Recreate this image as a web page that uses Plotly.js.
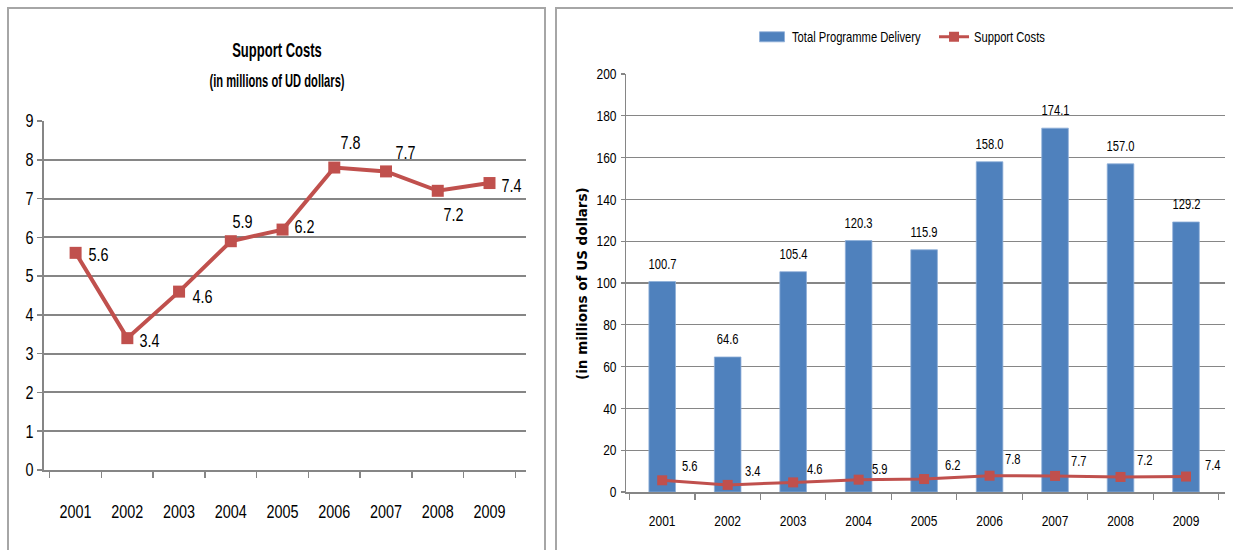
<!DOCTYPE html>
<html>
<head>
<meta charset="utf-8">
<script src="https://cdn.plot.ly/plotly-3.0.1.min.js"></script>
<style>
  html, body { margin: 0; padding: 0; background: #fff; width: 1233px; height: 550px; overflow: hidden; }
  .frame { position: absolute; border: 2px solid #a6a6a6; background: #fff; }
  #costs { left: 7px; top: 7px; width: 535px; height: 560px; }
  #delivery { left: 555px; top: 7px; width: 700px; height: 560px; }
</style>
</head>
<body>
<div id="costs" class="frame"></div>
<div id="delivery" class="frame"></div>
<script>
// Yearly figures, millions of US dollars
const years = ['2001', '2002', '2003', '2004', '2005', '2006', '2007', '2008', '2009'];
const supportCosts = [5.6, 3.4, 4.6, 5.9, 6.2, 7.8, 7.7, 7.2, 7.4];
const programmeDelivery = [100.7, 64.6, 105.4, 120.3, 115.9, 158.0, 174.1, 157.0, 129.2];

// Label placement (pixel nudges from each point)
const costLabelShift = [[23, -2], [22, -3], [23, -5], [12, 19], [22, 3], [16, 25], [19, 18], [16, -24], [22, -3]];
const lineLabelShift = [[28, 14], [25, 14], [22, 13], [21, 11], [29, 14], [23, 17], [24, 15], [24, 17], [27, 12]];

const SANS = '"Liberation Sans", Arial, sans-serif';
const GRID = '#868686';
const BLUE = '#4F81BD';
const RED = '#C0504D';
const cfg = { displayModeBar: false, staticPlot: true };

/* ---------- left: support costs line ---------- */
const costTrace = {
  type: 'scatter', mode: 'lines+markers', x: years, y: supportCosts,
  line: { color: RED, width: 4 },
  marker: { symbol: 'square', size: 12, color: RED },
  cliponaxis: false, hoverinfo: 'skip'
};

const costLabels = years.map((yr, i) => ({
  x: i, y: supportCosts[i], xref: 'x', yref: 'y',
  text: supportCosts[i].toFixed(1), showarrow: false,
  xshift: costLabelShift[i][0], yshift: costLabelShift[i][1],
  font: { family: SANS, size: 18, color: '#000' }
}));
const costSubtitle = {
  xref: 'paper', yref: 'paper', x: (268 - 35) / 482, y: 1.1146, xanchor: 'center', yanchor: 'middle',
  text: '(in millions of UD dollars)', showarrow: false,
  font: { family: SANS, size: 18, weight: 'bold', color: '#000' }
};

const costsPlot = Plotly.newPlot('costs', [costTrace], {
  width: 535, height: 560,
  margin: { l: 35, r: 18, t: 112, b: 99 },
  paper_bgcolor: '#fff', plot_bgcolor: '#fff',
  showlegend: false,
  font: { family: SANS, size: 18, color: '#000' },
  title: {
    text: 'Support Costs',
    font: { family: SANS, size: 21, weight: 'bold', color: '#000' },
    xref: 'container', x: 268 / 535, xanchor: 'center',
    yref: 'container', y: 1 - 41 / 560, yanchor: 'middle'
  },
  xaxis: {
    type: 'category', tickson: 'boundaries', ticks: 'outside', ticklen: 6,
    tickcolor: GRID, tickwidth: 1.5, showline: true, linecolor: GRID, linewidth: 2,
    showgrid: false, tickangle: 0, ticklabelstandoff: 24, fixedrange: true
  },
  yaxis: {
    range: [0, 9], dtick: 1, ticks: 'outside', ticklen: 5, tickcolor: GRID, tickwidth: 1.5,
    showline: true, linecolor: GRID, linewidth: 2,
    showgrid: true, gridcolor: GRID, gridwidth: 2, zeroline: false,
    ticklabelstandoff: 0, fixedrange: true
  },
  annotations: costLabels.concat([costSubtitle])
}, cfg);

/* ---------- right: programme delivery bars + support costs ---------- */
const barTrace = {
  type: 'bar', name: 'Total Programme Delivery', x: years, y: programmeDelivery,
  marker: { color: BLUE, line: { color: '#8eaed8', width: 0.8 } }, hoverinfo: 'skip'
};
const lineTrace = {
  type: 'scatter', mode: 'lines+markers', name: 'Support Costs', x: years, y: supportCosts,
  line: { color: RED, width: 3 },
  marker: { symbol: 'square', size: 10, color: RED },
  cliponaxis: false, hoverinfo: 'skip'
};

const barLabels = years.map((yr, i) => ({
  x: i, y: programmeDelivery[i], xref: 'x', yref: 'y',
  text: programmeDelivery[i].toFixed(1), showarrow: false, yshift: 18,
  font: { family: SANS, size: 14, color: '#000' }
}));
const lineLabels = years.map((yr, i) => ({
  x: i, y: supportCosts[i], xref: 'x', yref: 'y',
  text: supportCosts[i].toFixed(1), showarrow: false,
  xshift: lineLabelShift[i][0], yshift: lineLabelShift[i][1],
  font: { family: SANS, size: 14, color: '#000' }
}));
const yTitle = {
  xref: 'paper', yref: 'paper', x: -0.0735, y: 0.5, xanchor: 'center', yanchor: 'middle',
  text: '(in millions of US dollars)', textangle: -90, showarrow: false,
  font: { family: '"DejaVu Sans", Verdana, sans-serif', size: 13.5, weight: 'bold', color: '#000' }
};

const deliveryPlot = Plotly.newPlot('delivery', [barTrace, lineTrace], {
  width: 700, height: 560,
  margin: { l: 69, r: 32, t: 63, b: 77 },
  paper_bgcolor: '#fff', plot_bgcolor: '#fff',
  bargap: 0.594,
  font: { family: SANS, size: 14, color: '#000' },
  showlegend: true,
  legend: {
    orientation: 'h', xref: 'paper', x: 0.2104, xanchor: 'left',
    yref: 'paper', y: 1.088, yanchor: 'middle',
    entrywidthmode: 'pixels', entrywidth: 137,
    font: { family: SANS, size: 14, color: '#000' },
    bgcolor: 'rgba(0,0,0,0)', borderwidth: 0, traceorder: 'normal'
  },
  xaxis: {
    type: 'category', tickson: 'boundaries', ticks: 'outside', ticklen: 6,
    tickcolor: GRID, tickwidth: 1.2, showline: true, linecolor: GRID, linewidth: 1.5,
    showgrid: false, tickangle: 0, ticklabelstandoff: 15, fixedrange: true,
    tickfont: { family: SANS, size: 15, color: '#000' }
  },
  yaxis: {
    range: [0, 200], dtick: 20, ticks: 'outside', ticklen: 4, tickcolor: GRID, tickwidth: 1.2,
    showline: true, linecolor: GRID, linewidth: 1.5,
    showgrid: true, gridcolor: GRID, gridwidth: 1.3, zeroline: false,
    ticklabelstandoff: 1, fixedrange: true,
    tickfont: { family: SANS, size: 15, color: '#000' }
  },
  annotations: barLabels.concat(lineLabels, [yTitle])
}, cfg);

// Narrow the sans-serif text horizontally, about its anchor point,
// to get the condensed face the charts are set in.
function condenseText(gd) {
  gd.querySelectorAll('svg text').forEach(t => {
    const fam = t.style.fontFamily || '';
    if (fam.indexOf('Liberation') < 0) return;
    const w = String(t.style.fontWeight || '');
    const bold = w === 'bold' || parseInt(w, 10) >= 600;
    const s = bold ? 0.62 : 0.8;
    const bb = t.getBBox();
    if (!bb.width) return;
    const anchor = t.getAttribute('text-anchor') || t.style.textAnchor || 'start';
    const px = anchor === 'end' ? bb.x + bb.width : anchor === 'middle' ? bb.x + bb.width / 2 : bb.x;
    const prev = t.getAttribute('transform') || '';
    t.setAttribute('transform', (prev + ' translate(' + px + ',0) scale(' + s + ',1) translate(' + (-px) + ',0)').trim());
  });
}

// Wide, flat swatch for the bar series legend entry
function widenBarSwatch(gd) {
  const sw = gd.querySelector('.legend .traces .legendpoints path');
  if (sw) sw.setAttribute('d', 'M12.5,5H-12.5V-5H12.5Z');
}

Promise.all([costsPlot, deliveryPlot]).then(gds => {
  gds.forEach(condenseText);
  widenBarSwatch(gds[1]);
});
</script>
</body>
</html>
